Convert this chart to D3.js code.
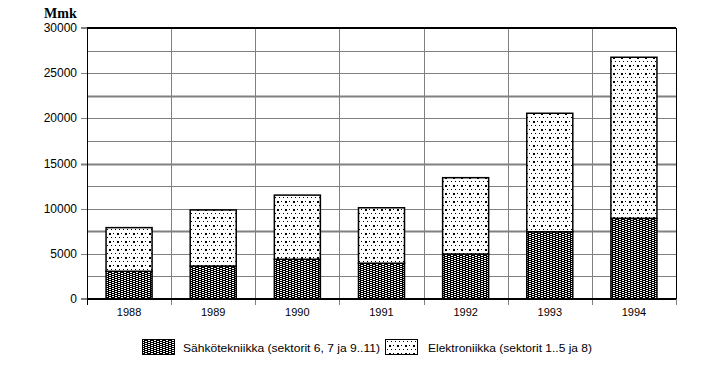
<!DOCTYPE html>
<html>
<head>
<meta charset="utf-8">
<script src="https://cdn.jsdelivr.net/npm/d3@7"></script>
<style>
  body { margin: 0; background: #fff; }
  svg { display: block; }
  text { font-family: "Liberation Sans", Arial, sans-serif; fill: #000; }
</style>
</head>
<body>
<svg id="chart" width="718" height="373"></svg>
<script>
const years = ["1988", "1989", "1990", "1991", "1992", "1993", "1994"];
const sahko = [3070, 3650, 4400, 3960, 4980, 7450, 8930];
const elektroniikka = [4830, 6210, 7100, 6140, 8450, 13110, 17830];
const seriesNames = ["Sähkötekniikka (sektorit 6, 7 ja 9..11)", "Elektroniikka (sektorit 1..5 ja 8)"];
const yTicks = [0, 5000, 10000, 15000, 20000, 25000, 30000];
const yGrid = [2500, 5000, 7500, 10000, 12500, 15000, 17500, 20000, 22500, 25000, 27500];
const thickGrid = [7500, 15000, 22500];
const unitLabel = "Mmk";

const svg = d3.select("#chart");
const L = 87, R = 676, T = 28, B = 299;

const defs = svg.append("defs");
const p1 = defs.append("pattern").attr("id", "hatch").attr("patternUnits", "userSpaceOnUse")
  .attr("width", 6).attr("height", 2);
p1.append("rect").attr("width", 6).attr("height", 2).attr("fill", "#fff");
p1.append("rect").attr("x", 0).attr("y", 0).attr("width", 4).attr("height", 1).attr("fill", "#000");
p1.append("rect").attr("x", 3).attr("y", 1).attr("width", 3).attr("height", 1).attr("fill", "#000");
p1.append("rect").attr("x", 0).attr("y", 1).attr("width", 1).attr("height", 1).attr("fill", "#000");

const p2 = defs.append("pattern").attr("id", "dots").attr("patternUnits", "userSpaceOnUse")
  .attr("width", 8).attr("height", 8);
p2.append("rect").attr("width", 8).attr("height", 8).attr("fill", "#fff");
p2.append("rect").attr("x", 1).attr("y", 1).attr("width", 1).attr("height", 1).attr("fill", "#000");
p2.append("rect").attr("x", 5).attr("y", 1).attr("width", 2).attr("height", 2).attr("fill", "#000");
p2.append("rect").attr("x", 3).attr("y", 5).attr("width", 1).attr("height", 1).attr("fill", "#000");
p2.append("rect").attr("x", 7).attr("y", 5).attr("width", 1).attr("height", 1).attr("fill", "#000");

const x = d3.scaleBand().domain(years).range([L, R]).paddingInner(0.453).paddingOuter(0.2265);
const xb = d3.scaleLinear().domain([0, years.length]).range([L, R]);
const y = d3.scaleLinear().domain([0, 30000]).range([B, T]);

// horizontal grid
svg.append("g").selectAll("line").data(yGrid).join("line")
  .attr("x1", d => yTicks.includes(d) ? L - 6 : L).attr("x2", R)
  .attr("y1", d => Math.round(y(d)) + 0.5).attr("y2", d => Math.round(y(d)) + 0.5)
  .attr("stroke", "#808080")
  .attr("stroke-width", d => thickGrid.includes(d) ? 2 : 1);

// vertical grid / boundaries
svg.append("g").selectAll("line").data(d3.range(1, years.length + 1)).join("line")
  .attr("x1", d => Math.round(xb(d)) + 0.5).attr("x2", d => Math.round(xb(d)) + 0.5)
  .attr("y1", T).attr("y2", B + 6)
  .attr("stroke", "#808080").attr("stroke-width", 1);

// top line & tick
svg.append("line").attr("x1", L - 6).attr("x2", L).attr("y1", y(30000)).attr("y2", y(30000))
  .attr("stroke", "#808080").attr("stroke-width", 2);
svg.append("line").attr("x1", L).attr("x2", R).attr("y1", y(30000)).attr("y2", y(30000))
  .attr("stroke", "#000").attr("stroke-width", 2);
// zero tick
svg.append("line").attr("x1", L - 6).attr("x2", L).attr("y1", y(0)).attr("y2", y(0))
  .attr("stroke", "#808080").attr("stroke-width", 2);
// right border
svg.append("line").attr("x1", R + 0.5).attr("x2", R + 0.5).attr("y1", T).attr("y2", B)
  .attr("stroke", "#000").attr("stroke-width", 1);

// bars
const stacked = d3.stack().keys([0, 1])(years.map((yr, i) => ({0: sahko[i], 1: elektroniikka[i]})));
const fills = ["url(#hatch)", "url(#dots)"];
stacked.forEach((layer, k) => {
  svg.append("g").selectAll("rect").data(layer).join("rect")
    .attr("x", (d, i) => x(years[i]))
    .attr("width", x.bandwidth())
    .attr("y", d => y(d[1]))
    .attr("height", d => y(d[0]) - y(d[1]))
    .attr("fill", fills[k])
    .attr("stroke", "#000").attr("stroke-width", 1.5);
});

// axes lines
svg.append("line").attr("x1", L + 0.5).attr("x2", L + 0.5).attr("y1", T).attr("y2", B + 6)
  .attr("stroke", "#000").attr("stroke-width", 1);
svg.append("line").attr("x1", L).attr("x2", R).attr("y1", y(0)).attr("y2", y(0))
  .attr("stroke", "#000").attr("stroke-width", 2);

// y labels
svg.append("g").selectAll("text").data(yTicks).join("text")
  .attr("x", 77).attr("y", d => y(d) + 4)
  .attr("text-anchor", "end").style("font-size", "12px")
  .text(d => d);

// x labels
svg.append("g").selectAll("text").data(years).join("text")
  .attr("x", d => x(d) + x.bandwidth() / 2).attr("y", 316)
  .attr("text-anchor", "middle").style("font-size", "11px")
  .text(d => d);

// unit label
svg.append("text").attr("x", 44).attr("y", 18)
  .style("font-family", "'Liberation Serif', 'Times New Roman', serif")
  .style("font-weight", "bold").style("font-size", "14px")
  .text(unitLabel);

// legend
const legendX = [142, 385];
const textX = [183, 428];
const textW = [197, 164];
seriesNames.forEach((name, k) => {
  svg.append("rect").attr("x", legendX[k] + 0.5).attr("y", 339.5).attr("width", 32).attr("height", 15)
    .attr("fill", fills[k]).attr("stroke", "#000").attr("stroke-width", 1);
  svg.append("text").attr("x", textX[k]).attr("y", 352)
    .style("font-size", "11.5px")
    .attr("textLength", textW[k]).attr("lengthAdjust", "spacingAndGlyphs")
    .text(name);
});
</script>
</body>
</html>
